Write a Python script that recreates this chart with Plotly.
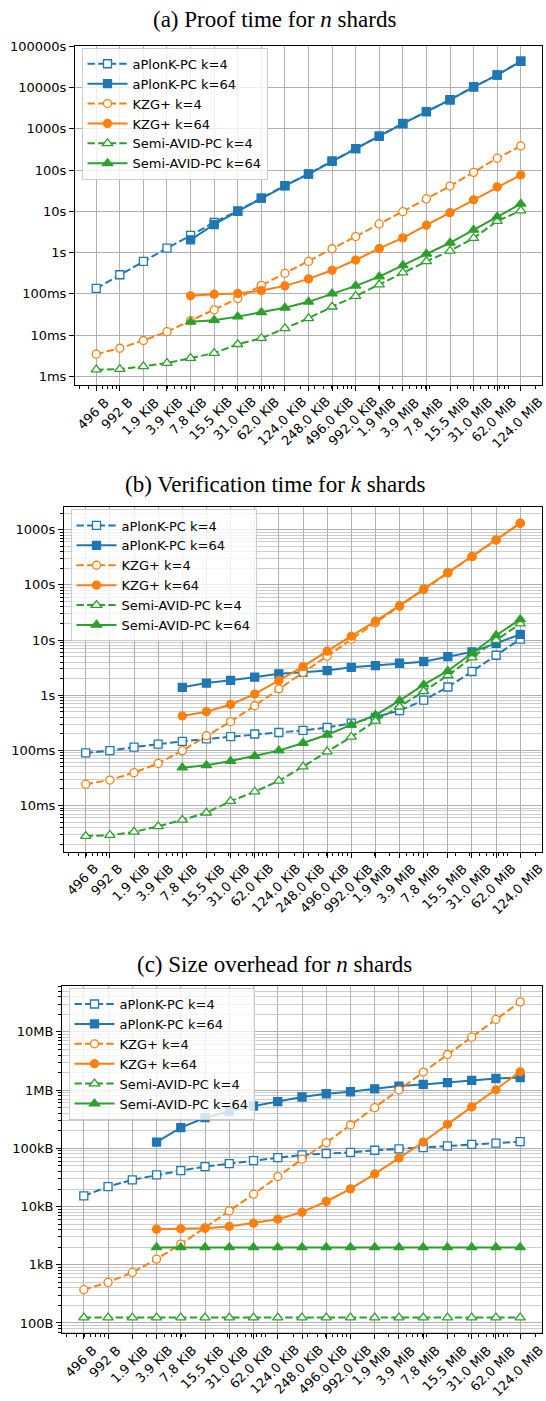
import numpy as np
import plotly.graph_objects as go

W, H = 546, 1401

# Data size per blob: 496 B doubling up to 124 MiB
size_bytes = [496, 992, 1984, 3968, 7936, 15872, 31744, 63488, 126976, 253952,
              507904, 1015808, 2031616, 4063232, 8126464, 16252928, 32505856,
              65011712, 130023424]
size_labels = ["496 B", "992 B", "1.9 KiB", "3.9 KiB", "7.8 KiB", "15.5 KiB",
               "31.0 KiB", "62.0 KiB", "124.0 KiB", "248.0 KiB", "496.0 KiB",
               "992.0 KiB", "1.9 MiB", "3.9 MiB", "7.8 MiB", "15.5 MiB",
               "31.0 MiB", "62.0 MiB", "124.0 MiB"]

series_names = ["aPlonK-PC k=4", "aPlonK-PC k=64", "KZG+ k=4", "KZG+ k=64",
                "Semi-AVID-PC k=4", "Semi-AVID-PC k=64"]

# (a) proof time for n shards, seconds
proof_aplonk_k4 = [0.135, 0.29, 0.61, 1.28, 2.6, 5.4, 10.3, 20.9, 42, 81, 165, 332,
                   668, 1345, 2610, 5070, 10400, 20200, 43500]
proof_aplonk_k64 = [None, None, None, None, 2.04, 4.8, 10.0, 20.8, 41.5, 80, 164, 330,
                    665, 1340, 2600, 5060, 10400, 20100, 43400]
proof_kzg_k4 = [0.00345, 0.0048, 0.0074, 0.0121, 0.0224, 0.041, 0.077, 0.16, 0.315,
                0.61, 1.24, 2.45, 4.95, 9.8, 20, 41, 88, 194, 384]
proof_kzg_k64 = [None, None, None, None, 0.0895, 0.098, 0.102, 0.12, 0.156, 0.23,
                 0.372, 0.66, 1.26, 2.27, 4.6, 9.3, 19, 39, 76]
proof_semi_k4 = [0.00145, 0.0015, 0.00174, 0.0021, 0.00277, 0.00365, 0.006, 0.0084,
                 0.0146, 0.0255, 0.0486, 0.088, 0.168, 0.327, 0.612, 1.1, 2.23, 5.8, 10.4]
proof_semi_k64 = [None, None, None, None, 0.021, 0.023, 0.028, 0.0355, 0.046, 0.064,
                  0.102, 0.156, 0.262, 0.49, 0.937, 1.73, 3.55, 7.4, 15.2]

# (b) verification time for k shards, seconds
verif_aplonk_k4 = [0.090, 0.099, 0.115, 0.130, 0.146, 0.161, 0.177, 0.198, 0.211, 0.230,
                   0.260, 0.311, 0.398, 0.524, 0.813, 1.41, 2.69, 5.3, 10.4]
verif_aplonk_k64 = [None, None, None, None, 1.39, 1.66, 1.86, 2.13, 2.44, 2.6, 2.8, 3.2,
                    3.44, 3.8, 4.06, 5.0, 6.1, 8.7, 12.7]
verif_kzg_k4 = [0.0244, 0.029, 0.0395, 0.058, 0.099, 0.184, 0.333, 0.644, 1.31, 2.58,
                5.1, 10.4, 20.6, 41, 83, 165, 325, 650, 1310]
verif_kzg_k64 = [None, None, None, None, 0.421, 0.502, 0.68, 1.05, 1.85, 3.3, 6.3, 11.7,
                 22, 42, 84, 167, 328, 653, 1318]
verif_semi_k4 = [0.00279, 0.0029, 0.00333, 0.0042, 0.0055, 0.0074, 0.012, 0.0178, 0.028,
                 0.0506, 0.095, 0.175, 0.342, 0.618, 1.18, 2.28, 4.8, 9.96, 19.8]
verif_semi_k64 = [None, None, None, None, 0.0486, 0.0535, 0.064, 0.0787, 0.099, 0.136,
                  0.192, 0.29, 0.438, 0.796, 1.55, 2.75, 5.7, 12.2, 23.7]

# (c) size overhead for n shards, bytes
size_aplonk_k4 = [15200, 22000, 28700, 34900, 41400, 48500, 54600, 61500, 69000, 77000,
                  81000, 85000, 92500, 97500, 103000, 110000, 117000, 123000, 130000]
size_aplonk_k64 = [None, None, None, 128000, 226000, 335000, 430000, 532000, 631000,
                   760000, 865000, 936000, 1050000, 1170000, 1250000, 1340000, 1470000,
                   1580000, 1630000]
size_kzg_k4 = [373, 498, 739, 1250, 2260, 4300, 8400, 16300, 32700, 65000, 125000,
               251000, 498000, 1000000, 2040000, 4080000, 8100000, 16300000, 32700000]
size_kzg_k64 = [None, None, None, 4090, 4140, 4250, 4540, 5180, 6070, 8000, 12200, 20100,
                36300, 68000, 128000, 258000, 512000, 1010000, 2060000]
size_semi_k4 = [124, 124, 124, 124, 124, 124, 124, 124, 124, 124, 124, 124, 124, 124,
                124, 124, 124, 124, 124]
size_semi_k64 = [None, None, None, 1984, 1984, 1984, 1984, 1984, 1984, 1984, 1984, 1984,
                 1984, 1984, 1984, 1984, 1984, 1984, 1984]

ytick_a = [1e-3, 1e-2, 1e-1, 1, 10, 100, 1000, 10000, 100000]
ytext_a = ["1ms", "10ms", "100ms", "1s", "10s", "100s", "1000s", "10000s", "100000s"]
ytick_b = [1e-2, 1e-1, 1, 10, 100, 1000]
ytext_b = ["10ms", "100ms", "1s", "10s", "100s", "1000s"]
ytick_c = [100, 1000, 10000, 100000, 1000000, 10000000]
ytext_c = ["100B", "1kB", "10kB", "100kB", "1MB", "10MB"]

COLORS = ["#1f77b4", "#1f77b4", "#ff7f0e", "#ff7f0e", "#2ca02c", "#2ca02c"]
SYMBOLS = ["square", "square", "circle", "circle", "triangle-up", "triangle-up"]
OPEN = [True, False, True, False, True, False]

TICK_FONT = dict(family="DejaVu Sans", size=13, color="black")
TITLE_FONT = dict(family="Liberation Serif", size=23, color="black")


def log_range(*lists):
    vals = [v for lst in lists for v in lst if v is not None]
    lo, hi = np.log10(min(vals)), np.log10(max(vals))
    pad = 0.05 * (hi - lo)
    return [lo - pad, hi + pad]


def minor_ticks(rng):
    out = []
    for e in range(int(np.floor(rng[0])) - 1, int(np.ceil(rng[1])) + 1):
        for m in range(2, 10):
            v = m * 10.0 ** e
            if rng[0] <= np.log10(v) <= rng[1]:
                out.append(v)
    return out


fig = go.Figure()

panels = [
    dict(series=[proof_aplonk_k4, proof_aplonk_k64, proof_kzg_k4, proof_kzg_k64,
                 proof_semi_k4, proof_semi_k64],
         box=(75, 39, 542, 380), yt=ytick_a, ytt=ytext_a, minor=False,
         title="(a) Proof time for <i>n</i> shards", title_y=13),
    dict(series=[verif_aplonk_k4, verif_aplonk_k64, verif_kzg_k4, verif_kzg_k64,
                 verif_semi_k4, verif_semi_k64],
         box=(64, 503, 542, 849), yt=ytick_b, ytt=ytext_b, minor=True,
         title="(b) Verification time for <i>k</i> shards", title_y=480),
    dict(series=[size_aplonk_k4, size_aplonk_k64, size_kzg_k4, size_kzg_k64,
                 size_semi_k4, size_semi_k64],
         box=(62, 984, 542, 1333), yt=ytick_c, ytt=ytext_c, minor=True,
         title="(c) Size overhead for <i>n</i> shards", title_y=962),
]

xr = log_range(size_bytes)
x_minor = minor_ticks(xr)
annotations = []

for i, p in enumerate(panels, start=1):
    sfx = "" if i == 1 else str(i)
    xa, ya, lg = "x" + sfx, "y" + sfx, "legend" + sfx
    for name, vals, col, sym, op in zip(series_names, p["series"], COLORS, SYMBOLS, OPEN):
        fig.add_trace(go.Scatter(
            x=size_bytes, y=vals, name=name, xaxis=xa, yaxis=ya, legend=lg,
            mode="lines+markers",
            line=dict(color=col, width=2, dash="7.4px,3.2px" if op else "solid"),
            marker=dict(symbol=sym, size=9 if sym == "triangle-up" else 8,
                        color="white" if op else col,
                        line=dict(color=col, width=1.3)),
        ))
    left, top, right, bottom = p["box"]
    yr = log_range(*p["series"])
    common = dict(showline=True, linecolor="black", linewidth=1, mirror=True,
                  ticks="outside", ticklen=5, tickwidth=1, tickcolor="black",
                  showgrid=True, gridcolor="#b0b0b0", gridwidth=1, zeroline=False,
                  tickfont=TICK_FONT)
    fig.update_layout(**{
        "xaxis" + sfx: dict(type="log", domain=[left / W, right / W], anchor=ya,
                            range=xr, tickmode="array", tickvals=size_bytes,
                            showticklabels=False,
                            minor=dict(tickmode="array", tickvals=x_minor,
                                       ticks="outside", ticklen=3, tickwidth=0.8,
                                       tickcolor="black", showgrid=False),
                            **common),
        "yaxis" + sfx: dict(type="log", domain=[1 - bottom / H, 1 - top / H], anchor=xa,
                            range=yr, tickmode="array", tickvals=p["yt"],
                            ticktext=p["ytt"],
                            minor=dict(tickmode="array", tickvals=minor_ticks(yr),
                                       ticks="outside", ticklen=3, tickwidth=0.8,
                                       tickcolor="black", showgrid=True,
                                       gridcolor="#cdcdcd", gridwidth=0.8)
                            if p["minor"] else dict(ticks="", showgrid=False),
                            **common),
        lg: dict(x=(left + 6.5) / W, y=1 - (top + 2) / H, xanchor="left",
                 yanchor="top", bgcolor="rgba(255,255,255,0.8)",
                 bordercolor="#cccccc", borderwidth=1, font=TICK_FONT,
                 itemwidth=40),
    })
    # rotated size labels centred under each tick
    for b, lab in zip(size_bytes, size_labels):
        annotations.append(dict(x=np.log10(b), y=0, xref=xa, yref=ya + " domain",
                                text=lab, textangle=-45, showarrow=False,
                                xanchor="center", yanchor="top", yshift=-8, xshift=-3,
                                font=TICK_FONT, borderpad=0))
    annotations.append(dict(x=0.503, y=1 - p["title_y"] / H, xref="paper", yref="paper",
                            text=p["title"], showarrow=False, xanchor="center",
                            yanchor="middle", font=TITLE_FONT))

fig.update_layout(width=W, height=H, margin=dict(l=0, r=0, t=0, b=0),
                  paper_bgcolor="white", plot_bgcolor="white",
                  annotations=annotations, showlegend=True)

fig.write_html("out.html")
